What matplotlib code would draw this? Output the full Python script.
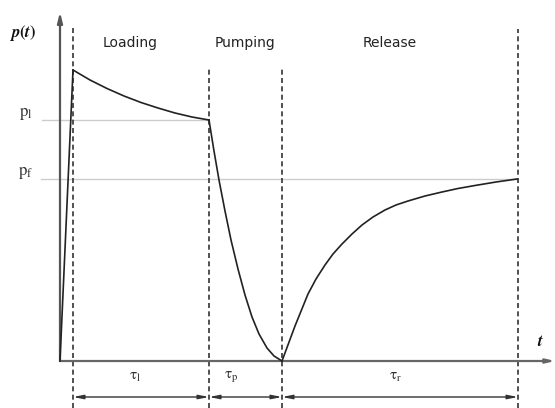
import matplotlib.pyplot as plt

plt.rcParams['font.family'] = ['DejaVu Sans']
plt.rcParams['mathtext.fontset'] = 'stix'

# schematic p(t) curve, units (origin at axes crossing)
rise_t = [0, 13]
rise_p = [0, 291]

load_t = [13, 30, 47, 64, 81, 98, 115, 132, 149]
load_p = [291, 281, 272.5, 265, 258.5, 253, 248, 244, 241]

pump_t = [149, 154, 159, 165, 171, 178, 185, 192, 199, 207, 214, 222]
pump_p = [241, 210, 181, 150, 121, 92, 66, 44, 27, 13, 5, 0]

rel_t = [222, 235, 248, 256, 265, 273, 282, 292, 302, 313, 325,
         336, 348, 365, 382, 398, 415, 436, 457]
rel_p = [0, 35, 67, 82, 96, 107, 117, 127, 136, 144, 151,
         156, 160, 165, 169, 172.5, 175.5, 179, 182]

# phase boundaries (dashed) and their top ends
phase_t = [13, 149, 222, 458]
phase_top = [333, 294, 294, 332]

p_l = 241
p_f = 182

phase_names = ['Loading', 'Pumping', 'Release']
phase_label_t = [70, 185, 330]

tau_labels = [r'$\mathrm{\tau_l}$', r'$\mathrm{\tau_p}$', r'$\mathrm{\tau_r}$']
tau_label_t = [75, 171, 336]

fig = plt.figure(figsize=(5.55, 4.08), dpi=100)
ax = fig.add_axes([0, 0, 1, 1])
ax.set_xlim(-60, 495)
ax.set_ylim(-47, 361)
ax.axis('off')

# reference levels
ax.plot([-18, phase_t[1]], [p_l, p_l], color='#cccccc', lw=1.0, zorder=1)
ax.plot([-19, phase_t[3]], [p_f, p_f], color='#cccccc', lw=1.0, zorder=1)

# dashed phase boundaries
for t, top in zip(phase_t, phase_top):
    ax.plot([t, t], [-47, top], color='#333333', lw=1.2,
            linestyle=(0, (3, 2)), zorder=2)

# axes with arrow heads
ax.annotate('', xy=(0, 349), xytext=(0, 0),
            arrowprops=dict(arrowstyle='-|>,head_length=0.6,head_width=0.15',
                            color='#555555', lw=1.6, shrinkA=0, shrinkB=0))
ax.annotate('', xy=(495, 0), xytext=(0, 0),
            arrowprops=dict(arrowstyle='-|>,head_length=0.5,head_width=0.12',
                            color='#666666', lw=1.6, shrinkA=0, shrinkB=0))

# the curve
for tt, pp in [(rise_t, rise_p), (load_t, load_p), (pump_t, pump_p), (rel_t, rel_p)]:
    ax.plot(tt, pp, color='#222222', lw=1.2, zorder=3, solid_joinstyle='round')

# duration arrows
for a, b in zip(phase_t[:-1], phase_t[1:]):
    ax.annotate('', xy=(b, -36), xytext=(a, -36),
                arrowprops=dict(arrowstyle='<|-|>,head_length=0.6,head_width=0.12',
                                color='#333333', lw=1.0, shrinkA=0, shrinkB=0))

for name, t in zip(phase_names, phase_label_t):
    ax.text(t, 318, name, ha='center', va='center', fontsize=10, color='#222222')

for lab, t in zip(tau_labels, tau_label_t):
    ax.text(t, -16, lab, ha='center', va='center', fontsize=11, color='#333333')

ax.text(-34, 248, r'$\mathrm{p_l}$', ha='center', va='center', fontsize=12, color='#333333')
ax.text(-34, 189, r'$\mathrm{p_f}$', ha='center', va='center', fontsize=12, color='#333333')
ax.text(-37, 328, r'$\boldsymbol{p(t)}$', ha='center', va='center', fontsize=12, color='#111111')
ax.text(480, 20, r'$\boldsymbol{t}$', ha='center', va='center', fontsize=12, color='#111111')

fig.savefig('out.png', dpi=100, facecolor='white')
